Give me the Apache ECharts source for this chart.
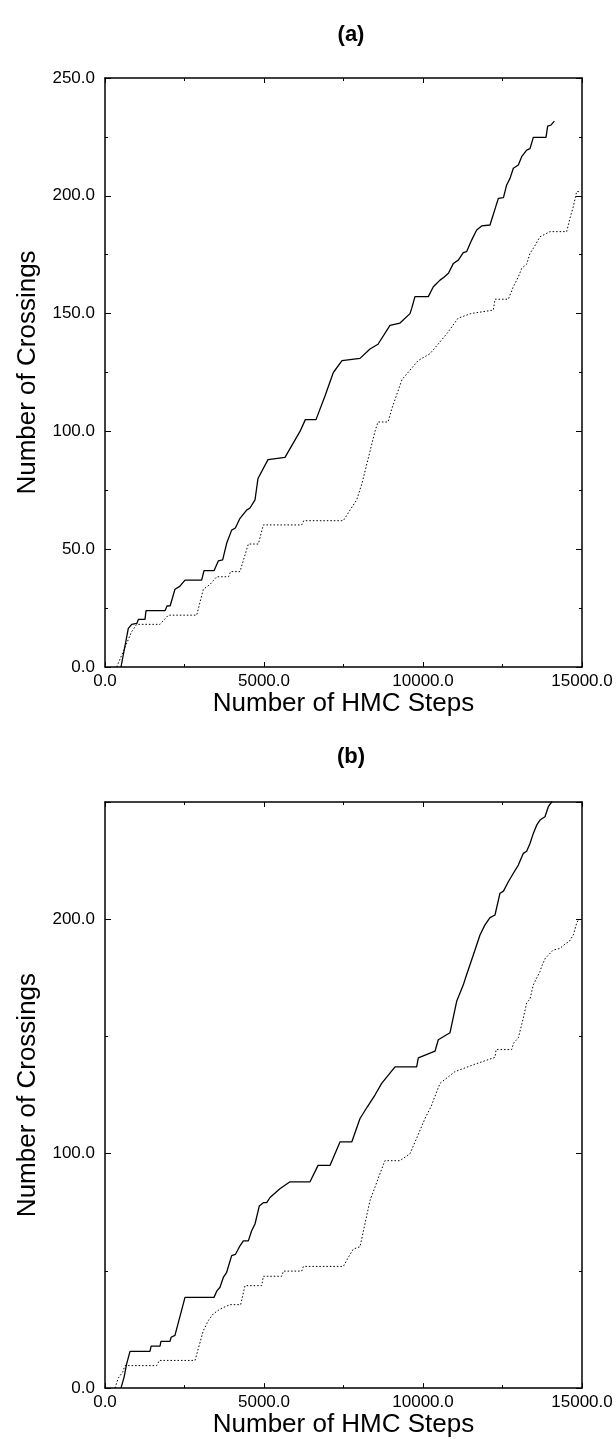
<!DOCTYPE html>
<html>
<head>
<meta charset="utf-8">
<script src="https://cdn.jsdelivr.net/npm/echarts@6/dist/echarts.min.js"></script>
<style>html,body{margin:0;padding:0;background:#fff;}#c{width:616px;height:1439px;}</style>
</head>
<body>
<div id="c"></div>
<script>
// Panel (a)
const aSolidX = [503,733,840,1000,1050,1258,1290,1887,1950,2050,2200,2350,2516,3040,3113,3428,3563,3700,3826,3983,4100,4245,4455,4560,4717,4811,5126,5660,6132,6300,6635,6918,7180,7453,8019,8333,8585,8962,9277,9591,9644,9748,10167,10325,10377,10535,10650,10799,10956,11110,11268,11370,11530,11688,11845,12107,12369,12530,12631,12736,12841,12998,13103,13260,13365,13469,13868,13920,14020,14131];
const aSolidY = [0,16.4,18.1,18.5,20.2,20.2,23.9,23.9,25.9,26,33,34.2,36.9,36.9,40.9,40.9,45,45.5,52.5,58.1,59,63.1,66.6,67.5,70.9,80,88,89,100,105,105,115,125,130,131,135,137,145,146,150,152.2,157.2,157.2,161.4,162.1,164.2,165.3,167.1,171.3,172.7,175.9,176.3,181.2,185.5,187.2,187.6,198.9,199.2,204.6,207.4,211.7,213.1,216.6,219.4,220,224.8,224.8,229.6,230,231.7];
const aDotX = [367,838,995,1730,1992,2883,3092,3300,3512,3885,3950,4245,4507,4822,4979,6184,6250,7495,7704,7914,8082,8490,8585,8900,9030,9340,9591,9843,10220,10535,10780,11100,11500,12212,12264,12683,12840,12998,13103,13260,13365,13469,13679,13994,14518,14620,14727,14832,14937];
const aDotY = [0,15,18.1,18.1,22,22,33,35,38.3,38.3,40.5,40.5,52.2,52.2,60.3,60.3,62.1,62.1,66.6,70.9,78,100,104,104,110,122,126,130,133,138,142,148,150,151.5,156.1,156.1,161.4,165.6,169.2,171,175.6,177.7,182.6,184.8,184.8,190.4,195.4,201.8,201.8];
// Panel (b)
const bSolidX = [503,600,681,786,1415,1450,1730,1760,2044,2080,2200,2516,3428,3520,3616,3721,3826,3983,4100,4245,4350,4507,4612,4717,4853,4979,5085,5189,5500,5818,6447,6700,7075,7390,7760,8019,8250,8490,8700,9120,9800,9853,10377,10481,10650,10850,11059,11268,11370,11478,11635,11792,11949,12107,12264,12421,12530,12683,12841,12998,13155,13260,13365,13469,13574,13679,13836,13941,14046,14100];
const bSolidY = [0,4.7,10.3,15.7,15.7,17.9,17.9,19.9,19.9,21.7,22.5,38.7,38.7,41.5,43,47.2,49.4,56.5,57,60.7,62.8,62.8,67.1,70,77.7,79.1,79.1,81.3,85,88,88,95,95,105,105,115,120,125,130,137,137,140.9,143.7,148.6,150,151.6,165,172,176.3,180.6,186.9,193.3,197.6,200.7,201.8,211.1,212,216,219.6,223.1,228.1,229,232.3,236.6,240.1,242.3,243.7,248,250,252];
const bDotX = [314,419,556,629,1625,1709,2830,3092,3250,3400,3616,3931,4266,4403,4927,4980,5556,5610,6184,6240,7495,7650,7809,8019,8333,8800,9277,9591,9750,10063,10250,10535,11006,11600,12264,12300,12788,12850,12998,13155,13260,13365,13469,13679,13750,13850,14099,14300,14466,14600,14727,14832,14885];
const bDotY = [0,4.3,6.8,9.6,9.6,11.8,11.8,24.5,28.8,31.6,33.7,35.6,35.6,43.7,43.7,47.7,47.7,49.9,49.9,51.9,51.9,55.7,59.3,60.3,80,97,97,100,105,115,120,130,135,138,141.1,144.4,144.4,147.2,149.4,157.9,164.3,166,172,177.7,180.5,183.4,186.9,187.5,189.4,190.5,193.3,198.3,199.7];

const zip = (xs, ys) => xs.map((x, i) => [x, ys[i]]);

const FONT = 'Liberation Sans, Arial, Helvetica, sans-serif';
const black = '#000';

function xAxis(gi, bottom) {
  return {
    type: 'value', gridIndex: gi, min: 0, max: 15000, interval: 5000,
    position: bottom ? 'bottom' : 'top',
    axisLine: {show: true, onZero: false, lineStyle: {color: black, width: 1.5}},
    axisTick: {show: true, inside: true, length: 5, lineStyle: {color: black, width: 1}},
    minorTick: {show: true, splitNumber: 2, length: 3, lineStyle: {color: black, width: 1}},
    splitLine: {show: false}, minorSplitLine: {show: false},
    axisLabel: {show: bottom, formatter: v => v.toFixed(1), fontSize: 17, color: black, margin: 6, fontFamily: FONT},
    name: bottom ? 'Number of HMC Steps' : '', nameLocation: 'middle', nameGap: 20,
    nameTextStyle: {fontSize: 26, color: black, fontFamily: FONT}
  };
}
function yAxis(gi, left, interval, labelFn) {
  return {
    type: 'value', gridIndex: gi, min: 0, max: 250, interval: interval,
    position: left ? 'left' : 'right',
    axisLine: {show: true, onZero: false, lineStyle: {color: black, width: 1.5}},
    axisTick: {show: true, inside: true, length: 6, lineStyle: {color: black, width: 1}},
    minorTick: {show: true, splitNumber: 2, length: 3, lineStyle: {color: black, width: 1}},
    splitLine: {show: false}, minorSplitLine: {show: false},
    axisLabel: {show: left, formatter: labelFn, fontSize: 17, color: black, margin: 10, fontFamily: FONT, showMaxLabel: true},
    name: left ? 'Number of Crossings' : '', nameLocation: 'middle', nameGap: 64,
    nameTextStyle: {fontSize: 26, color: black, fontFamily: FONT}
  };
}
const labA = v => v.toFixed(1);
const labB = v => (v % 100 === 0 ? v.toFixed(1) : '');

function solid(xi, yi, data) {
  return {type: 'line', xAxisIndex: xi, yAxisIndex: yi, data: data, showSymbol: false, symbol: 'none',
    lineStyle: {color: black, width: 1.3, type: 'solid'}, clip: true, animation: false};
}
function dotted(xi, yi, data) {
  return {type: 'line', xAxisIndex: xi, yAxisIndex: yi, data: data, showSymbol: false, symbol: 'none',
    lineStyle: {color: black, width: 1, type: [1.5, 2]}, clip: true, animation: false};
}

const chart = echarts.init(document.getElementById('c'), null, {renderer: 'canvas'});
chart.setOption({
  backgroundColor: '#fff',
  animation: false,
  title: [
    {text: '(a)', left: 346, top: 19, textAlign: 'center', textStyle: {fontSize: 22, fontWeight: 'bold', color: black, fontFamily: FONT}},
    {text: '(b)', left: 346, top: 741, textAlign: 'center', textStyle: {fontSize: 22, fontWeight: 'bold', color: black, fontFamily: FONT}}
  ],
  grid: [
    {left: 105, right: 34, top: 78, height: 589, containLabel: false},
    {left: 105, right: 34, top: 802, height: 589, containLabel: false}
  ],
  xAxis: [xAxis(0, true), xAxis(0, false), xAxis(1, true), xAxis(1, false)],
  yAxis: [yAxis(0, true, 50, labA), yAxis(0, false, 50, labA), yAxis(1, true, 100, labB), yAxis(1, false, 100, labB)],
  series: [
    solid(0, 0, zip(aSolidX, aSolidY)),
    dotted(0, 0, zip(aDotX, aDotY)),
    solid(2, 2, zip(bSolidX, bSolidY)),
    dotted(2, 2, zip(bDotX, bDotY))
  ]
});
</script>
</body>
</html>
